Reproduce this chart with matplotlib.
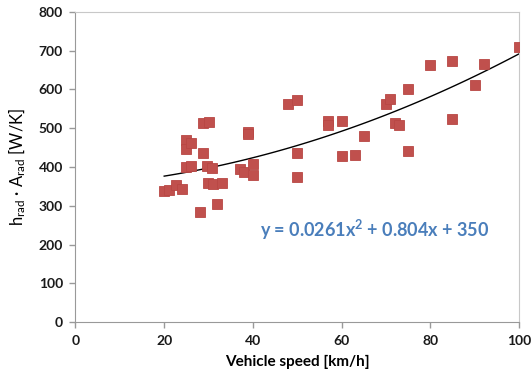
import numpy as np
import matplotlib.pyplot as plt

plt.rcParams['font.family'] = ['Lato', 'DejaVu Sans']
plt.rcParams['mathtext.default'] = 'regular'

# vehicle speed [km/h] and h_rad*A_rad [W/K]
speed = [20, 21, 22.6, 24, 25, 25, 26, 25, 26, 28, 28.7, 28.8, 30, 29.6, 30.8,
         29.8, 31, 32, 33, 37, 38, 39, 39, 40, 40, 48, 50, 50, 50,
         57, 57, 60, 60, 63, 65, 70, 71, 72, 73, 75, 75, 80, 85, 85, 90, 92, 100]
hA = [338, 342, 353, 343, 469, 446, 463, 400, 402, 283, 437, 513, 516, 402, 398,
      358, 357, 304, 359, 394, 387, 490, 484, 409, 379, 563, 573, 437, 373,
      519, 508, 519, 429, 431, 480, 563, 576, 513, 509, 601, 442, 662, 673, 524, 611, 666, 708]

# trendline shown on the chart
trend_coef = [0.0261, 0.804, 350]
trend_range = [20, 100]

xticks = [0, 20, 40, 60, 80, 100]
yticks = [0, 100, 200, 300, 400, 500, 600, 700, 800]

fig = plt.figure(figsize=(5.32, 3.81), dpi=100)
ax = fig.add_axes([0.1419, 0.154, 0.8337, 0.8153])

ax.plot(speed, hA, 's', color='#C0504D', markeredgecolor='#B84744',
        markersize=7, markeredgewidth=0.6, zorder=3)

xt = np.linspace(trend_range[0], trend_range[1], 100)
ax.plot(xt, np.polyval(trend_coef, xt), color='black', linewidth=1.0, zorder=2)

ax.text(67.5, 237, r'y = 0.0261x$^2$ + 0.804x + 350', color='#4A7EBB',
        fontsize=13, fontweight='bold', ha='center', va='center')

ax.set_xlim(0, 100)
ax.set_ylim(0, 800)
ax.set_xticks(xticks)
ax.set_yticks(yticks)
ax.tick_params(axis='both', direction='out', length=4, width=1, color='#999999',
               labelsize=10, labelcolor='#1a1a1a', pad=5)
ax.tick_params(top=False, right=False)
for lab in ax.get_xticklabels() + ax.get_yticklabels():
    lab.set_fontweight('bold')

for side in ['left', 'bottom']:
    ax.spines[side].set_color('#999999')
for side in ['top', 'right']:
    ax.spines[side].set_color('#C8C8C8')

ax.set_xlabel('Vehicle speed [km/h]', fontsize=11, fontweight='bold', labelpad=6)
ax.set_ylabel(r'h$_{rad}$ · A$_{rad}$ [W/K]', fontsize=12, labelpad=8)

fig.savefig('out.png', dpi=100)
